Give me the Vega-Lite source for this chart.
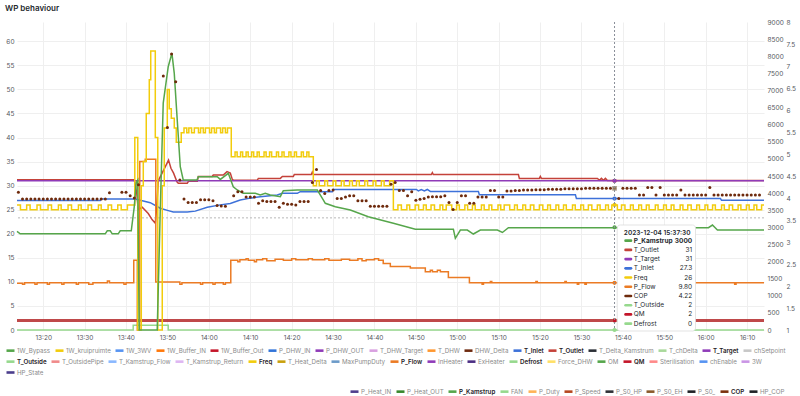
{
"$schema":"https://vega.github.io/schema/vega-lite/v6.json",
"width":747,"height":308,
"autosize":{"type":"none"},
"padding":{"left":17,"top":22,"right":36,"bottom":66},
"background":"#ffffff",
"title":{"text":"WP behaviour","anchor":"start","frame":"group","dx":-12,"offset":6,"fontSize":8,"fontWeight":600,"font":"Inter","color":"#24292e"},
"datasets":{
"tt":[{"t":"2023-12-04T15:37:30","k":1,"s":"P_Kamstrup","val":"3000","n":3000},{"t":"2023-12-04T15:37:30","k":2,"s":"T_Outlet","val":"31","n":31},{"t":"2023-12-04T15:37:30","k":3,"s":"T_Target","val":"31","n":31},{"t":"2023-12-04T15:37:30","k":4,"s":"T_Inlet","val":"27.3","n":27.3},{"t":"2023-12-04T15:37:30","k":5,"s":"Freq","val":"26","n":26},{"t":"2023-12-04T15:37:30","k":6,"s":"P_Flow","val":"9.80","n":9.8},{"t":"2023-12-04T15:37:30","k":7,"s":"COP","val":"4.22","n":4.22},{"t":"2023-12-04T15:37:30","k":8,"s":"T_Outside","val":"2","n":2},{"t":"2023-12-04T15:37:30","k":9,"s":"QM","val":"2","n":2},{"t":"2023-12-04T15:37:30","k":10,"s":"Defrost","val":"0","n":0}]
},
"data":{"values":[
{"s":"T_Outlet","t":"2023-12-04T13:13:40","v":31.2},{"s":"T_Outlet","t":"2023-12-04T13:41:59","v":31.2},{"s":"T_Outlet","t":"2023-12-04T13:42:35","v":28.5},{"s":"T_Outlet","t":"2023-12-04T13:42:57","v":25},{"s":"T_Outlet","t":"2023-12-04T13:43:55","v":25.5},{"s":"T_Outlet","t":"2023-12-04T13:45:22","v":24.2},{"s":"T_Outlet","t":"2023-12-04T13:46:20","v":22.9},{"s":"T_Outlet","t":"2023-12-04T13:47:04","v":22.2},{"s":"T_Outlet","t":"2023-12-04T13:47:25","v":25.6},{"s":"T_Outlet","t":"2023-12-04T13:47:47","v":31},{"s":"T_Outlet","t":"2023-12-04T13:49:28","v":33.9},{"s":"T_Outlet","t":"2023-12-04T13:50:16","v":35.3},{"s":"T_Outlet","t":"2023-12-04T13:50:51","v":33.6},{"s":"T_Outlet","t":"2023-12-04T13:51:29","v":32.6},{"s":"T_Outlet","t":"2023-12-04T13:52:18","v":30.8},{"s":"T_Outlet","t":"2023-12-04T13:52:37","v":30.5},{"s":"T_Outlet","t":"2023-12-04T13:54:47","v":30.5},{"s":"T_Outlet","t":"2023-12-04T13:55:06","v":30.9},{"s":"T_Outlet","t":"2023-12-04T13:57:13","v":30.9},{"s":"T_Outlet","t":"2023-12-04T13:57:27","v":31.9},{"s":"T_Outlet","t":"2023-12-04T14:00:50","v":31.9},{"s":"T_Outlet","t":"2023-12-04T14:01:04","v":32.2},{"s":"T_Outlet","t":"2023-12-04T14:03:29","v":32.2},{"s":"T_Outlet","t":"2023-12-04T14:04:23","v":32.9},{"s":"T_Outlet","t":"2023-12-04T14:05:11","v":32.6},{"s":"T_Outlet","t":"2023-12-04T14:05:40","v":31.3},{"s":"T_Outlet","t":"2023-12-04T14:05:59","v":31.1},{"s":"T_Outlet","t":"2023-12-04T14:11:42","v":31.1},{"s":"T_Outlet","t":"2023-12-04T14:11:57","v":31.5},{"s":"T_Outlet","t":"2023-12-04T14:17:16","v":31.5},{"s":"T_Outlet","t":"2023-12-04T14:17:45","v":31.9},{"s":"T_Outlet","t":"2023-12-04T14:20:24","v":31.9},{"s":"T_Outlet","t":"2023-12-04T14:20:38","v":32.3},{"s":"T_Outlet","t":"2023-12-04T14:24:45","v":32.3},{"s":"T_Outlet","t":"2023-12-04T14:24:59","v":32.8},{"s":"T_Outlet","t":"2023-12-04T14:25:14","v":32.3},{"s":"T_Outlet","t":"2023-12-04T14:53:44","v":32.3},{"s":"T_Outlet","t":"2023-12-04T14:53:59","v":32.7},{"s":"T_Outlet","t":"2023-12-04T14:54:13","v":32.3},{"s":"T_Outlet","t":"2023-12-04T15:14:46","v":32.3},{"s":"T_Outlet","t":"2023-12-04T15:15:00","v":31.5},{"s":"T_Outlet","t":"2023-12-04T15:19:50","v":31.5},{"s":"T_Outlet","t":"2023-12-04T15:20:04","v":31.9},{"s":"T_Outlet","t":"2023-12-04T15:20:19","v":31.5},{"s":"T_Outlet","t":"2023-12-04T15:33:51","v":31.5},{"s":"T_Outlet","t":"2023-12-04T15:34:20","v":31.1},{"s":"T_Outlet","t":"2023-12-04T15:34:49","v":31.5},{"s":"T_Outlet","t":"2023-12-04T15:35:18","v":31.1},{"s":"T_Outlet","t":"2023-12-04T15:35:47","v":31.5},{"s":"T_Outlet","t":"2023-12-04T15:36:16","v":31.05},{"s":"T_Outlet","t":"2023-12-04T16:14:05","v":31.05},
{"s":"T_Inlet","t":"2023-12-04T13:13:40","v":26.9},{"s":"T_Inlet","t":"2023-12-04T13:33:46","v":26.9},{"s":"T_Inlet","t":"2023-12-04T13:34:01","v":27.2},{"s":"T_Inlet","t":"2023-12-04T13:42:14","v":27.2},{"s":"T_Inlet","t":"2023-12-04T13:45:51","v":26.45},{"s":"T_Inlet","t":"2023-12-04T13:48:16","v":25.3},{"s":"T_Inlet","t":"2023-12-04T13:50:12","v":24.8},{"s":"T_Inlet","t":"2023-12-04T13:51:25","v":24.5},{"s":"T_Inlet","t":"2023-12-04T13:54:47","v":24.5},{"s":"T_Inlet","t":"2023-12-04T13:56:43","v":24.7},{"s":"T_Inlet","t":"2023-12-04T13:59:37","v":25.5},{"s":"T_Inlet","t":"2023-12-04T14:02:46","v":26.0},{"s":"T_Inlet","t":"2023-12-04T14:05:11","v":26.3},{"s":"T_Inlet","t":"2023-12-04T14:07:35","v":27.0},{"s":"T_Inlet","t":"2023-12-04T14:10:01","v":27.4},{"s":"T_Inlet","t":"2023-12-04T14:12:25","v":27.7},{"s":"T_Inlet","t":"2023-12-04T14:16:32","v":28.05},{"s":"T_Inlet","t":"2023-12-04T14:17:45","v":28.4},{"s":"T_Inlet","t":"2023-12-04T14:21:22","v":28.4},{"s":"T_Inlet","t":"2023-12-04T14:22:05","v":28.75},{"s":"T_Inlet","t":"2023-12-04T14:29:49","v":28.75},{"s":"T_Inlet","t":"2023-12-04T14:30:04","v":29.2},{"s":"T_Inlet","t":"2023-12-04T14:50:07","v":29.2},{"s":"T_Inlet","t":"2023-12-04T14:50:36","v":28.9},{"s":"T_Inlet","t":"2023-12-04T14:51:19","v":29.2},{"s":"T_Inlet","t":"2023-12-04T14:52:03","v":28.9},{"s":"T_Inlet","t":"2023-12-04T14:52:46","v":29.2},{"s":"T_Inlet","t":"2023-12-04T14:53:30","v":28.8},{"s":"T_Inlet","t":"2023-12-04T15:05:06","v":28.8},{"s":"T_Inlet","t":"2023-12-04T15:05:20","v":28.1},{"s":"T_Inlet","t":"2023-12-04T15:28:32","v":28.1},{"s":"T_Inlet","t":"2023-12-04T15:28:47","v":27.3},{"s":"T_Inlet","t":"2023-12-04T16:03:34","v":27.3},{"s":"T_Inlet","t":"2023-12-04T16:03:49","v":26.95},{"s":"T_Inlet","t":"2023-12-04T16:14:05","v":26.95},
{"s":"T_Target","t":"2023-12-04T13:13:40","v":31},{"s":"T_Target","t":"2023-12-04T16:14:05","v":31},
{"s":"T_Outside","t":"2023-12-04T13:13:40","v":2},{"s":"T_Outside","t":"2023-12-04T16:14:05","v":2},
{"s":"QM","t":"2023-12-04T13:13:40","v":2},{"s":"QM","t":"2023-12-04T16:14:05","v":2},
{"s":"Defrost","t":"2023-12-04T13:13:40","v":0},{"s":"Defrost","t":"2023-12-04T13:41:44","v":1},{"s":"Defrost","t":"2023-12-04T13:50:12","v":0},{"s":"Defrost","t":"2023-12-04T16:14:05","v":0},
{"s":"P_Flow","t":"2023-12-04T13:13:40","v":9.7},{"s":"P_Flow","t":"2023-12-04T13:15:00","v":9.5},{"s":"P_Flow","t":"2023-12-04T13:15:30","v":9.8},{"s":"P_Flow","t":"2023-12-04T13:18:00","v":9.5},{"s":"P_Flow","t":"2023-12-04T13:18:30","v":9.8},{"s":"P_Flow","t":"2023-12-04T13:21:00","v":9.5},{"s":"P_Flow","t":"2023-12-04T13:21:30","v":9.8},{"s":"P_Flow","t":"2023-12-04T13:24:30","v":9.5},{"s":"P_Flow","t":"2023-12-04T13:25:00","v":9.8},{"s":"P_Flow","t":"2023-12-04T13:28:00","v":9.5},{"s":"P_Flow","t":"2023-12-04T13:28:30","v":9.8},{"s":"P_Flow","t":"2023-12-04T13:31:00","v":9.5},{"s":"P_Flow","t":"2023-12-04T13:32:00","v":9.8},{"s":"P_Flow","t":"2023-12-04T13:35:30","v":10.2},{"s":"P_Flow","t":"2023-12-04T13:36:00","v":9.8},{"s":"P_Flow","t":"2023-12-04T13:39:30","v":9.5},{"s":"P_Flow","t":"2023-12-04T13:40:00","v":9.8},{"s":"P_Flow","t":"2023-12-04T13:41:52","v":14.5},{"s":"P_Flow","t":"2023-12-04T13:42:43","v":0},{"s":"P_Flow","t":"2023-12-04T13:43:19","v":35},{"s":"P_Flow","t":"2023-12-04T13:44:38","v":35.5},{"s":"P_Flow","t":"2023-12-04T13:47:11","v":10},{"s":"P_Flow","t":"2023-12-04T13:53:00","v":9.5},{"s":"P_Flow","t":"2023-12-04T13:53:30","v":9.8},{"s":"P_Flow","t":"2023-12-04T13:58:00","v":9.5},{"s":"P_Flow","t":"2023-12-04T13:58:30","v":9.8},{"s":"P_Flow","t":"2023-12-04T14:01:00","v":9.5},{"s":"P_Flow","t":"2023-12-04T14:01:30","v":9.8},{"s":"P_Flow","t":"2023-12-04T14:03:30","v":9.5},{"s":"P_Flow","t":"2023-12-04T14:04:00","v":9.8},{"s":"P_Flow","t":"2023-12-04T14:05:18","v":14.5},{"s":"P_Flow","t":"2023-12-04T14:07:00","v":14.2},{"s":"P_Flow","t":"2023-12-04T14:07:30","v":14.6},{"s":"P_Flow","t":"2023-12-04T14:09:00","v":14.8},{"s":"P_Flow","t":"2023-12-04T14:09:30","v":14.5},{"s":"P_Flow","t":"2023-12-04T14:11:00","v":14.2},{"s":"P_Flow","t":"2023-12-04T14:11:30","v":14.6},{"s":"P_Flow","t":"2023-12-04T14:13:00","v":14.8},{"s":"P_Flow","t":"2023-12-04T14:14:00","v":14.4},{"s":"P_Flow","t":"2023-12-04T14:16:00","v":14.7},{"s":"P_Flow","t":"2023-12-04T14:18:00","v":14.5},{"s":"P_Flow","t":"2023-12-04T14:20:00","v":14.8},{"s":"P_Flow","t":"2023-12-04T14:21:00","v":14.6},{"s":"P_Flow","t":"2023-12-04T14:24:00","v":14.8},{"s":"P_Flow","t":"2023-12-04T14:25:00","v":14.6},{"s":"P_Flow","t":"2023-12-04T14:28:00","v":14.8},{"s":"P_Flow","t":"2023-12-04T14:29:00","v":14.5},{"s":"P_Flow","t":"2023-12-04T14:32:00","v":14.7},{"s":"P_Flow","t":"2023-12-04T14:34:00","v":14.5},{"s":"P_Flow","t":"2023-12-04T14:36:00","v":14.8},{"s":"P_Flow","t":"2023-12-04T14:37:00","v":14.4},{"s":"P_Flow","t":"2023-12-04T14:38:00","v":14.6},{"s":"P_Flow","t":"2023-12-04T14:40:00","v":14.8},{"s":"P_Flow","t":"2023-12-04T14:41:00","v":14.5},{"s":"P_Flow","t":"2023-12-04T14:42:07","v":13.8},{"s":"P_Flow","t":"2023-12-04T14:43:50","v":13.2},{"s":"P_Flow","t":"2023-12-04T14:48:40","v":12.9},{"s":"P_Flow","t":"2023-12-04T14:52:17","v":12.1},{"s":"P_Flow","t":"2023-12-04T14:53:30","v":12.4},{"s":"P_Flow","t":"2023-12-04T14:54:00","v":12.1},{"s":"P_Flow","t":"2023-12-04T14:55:12","v":12.4},{"s":"P_Flow","t":"2023-12-04T14:55:55","v":12.1},{"s":"P_Flow","t":"2023-12-04T14:57:51","v":10.9},{"s":"P_Flow","t":"2023-12-04T15:02:56","v":9.8},{"s":"P_Flow","t":"2023-12-04T15:06:00","v":9.5},{"s":"P_Flow","t":"2023-12-04T15:06:20","v":9.8},{"s":"P_Flow","t":"2023-12-04T15:08:00","v":10.1},{"s":"P_Flow","t":"2023-12-04T15:08:20","v":9.8},{"s":"P_Flow","t":"2023-12-04T15:19:00","v":10.1},{"s":"P_Flow","t":"2023-12-04T15:19:20","v":9.8},{"s":"P_Flow","t":"2023-12-04T15:26:00","v":10.1},{"s":"P_Flow","t":"2023-12-04T15:26:20","v":9.8},{"s":"P_Flow","t":"2023-12-04T15:29:00","v":9.5},{"s":"P_Flow","t":"2023-12-04T15:29:20","v":9.8},{"s":"P_Flow","t":"2023-12-04T15:30:50","v":9.5},{"s":"P_Flow","t":"2023-12-04T15:31:10","v":9.8},{"s":"P_Flow","t":"2023-12-04T15:45:00","v":10.1},{"s":"P_Flow","t":"2023-12-04T15:45:20","v":9.8},{"s":"P_Flow","t":"2023-12-04T15:46:30","v":9.5},{"s":"P_Flow","t":"2023-12-04T15:46:50","v":9.8},{"s":"P_Flow","t":"2023-12-04T15:48:00","v":9.5},{"s":"P_Flow","t":"2023-12-04T15:48:20","v":9.8},{"s":"P_Flow","t":"2023-12-04T15:53:20","v":10.1},{"s":"P_Flow","t":"2023-12-04T15:53:40","v":9.8},{"s":"P_Flow","t":"2023-12-04T16:07:00","v":9.5},{"s":"P_Flow","t":"2023-12-04T16:07:20","v":9.8},{"s":"P_Flow","t":"2023-12-04T16:14:05","v":9.8},
{"s":"Freq","t":"2023-12-04T13:13:40","v":26},{"s":"Freq","t":"2023-12-04T13:14:30","v":25},{"s":"Freq","t":"2023-12-04T13:16:00","v":26},{"s":"Freq","t":"2023-12-04T13:16:50","v":25},{"s":"Freq","t":"2023-12-04T13:18:30","v":26},{"s":"Freq","t":"2023-12-04T13:19:20","v":25},{"s":"Freq","t":"2023-12-04T13:21:10","v":26},{"s":"Freq","t":"2023-12-04T13:22:00","v":25},{"s":"Freq","t":"2023-12-04T13:23:40","v":26},{"s":"Freq","t":"2023-12-04T13:24:20","v":25},{"s":"Freq","t":"2023-12-04T13:26:00","v":26},{"s":"Freq","t":"2023-12-04T13:26:50","v":25},{"s":"Freq","t":"2023-12-04T13:28:30","v":26},{"s":"Freq","t":"2023-12-04T13:29:10","v":25},{"s":"Freq","t":"2023-12-04T13:30:50","v":26},{"s":"Freq","t":"2023-12-04T13:31:40","v":25},{"s":"Freq","t":"2023-12-04T13:33:20","v":26},{"s":"Freq","t":"2023-12-04T13:34:00","v":25},{"s":"Freq","t":"2023-12-04T13:35:40","v":26},{"s":"Freq","t":"2023-12-04T13:36:30","v":25},{"s":"Freq","t":"2023-12-04T13:38:00","v":26},{"s":"Freq","t":"2023-12-04T13:38:50","v":25},{"s":"Freq","t":"2023-12-04T13:40:20","v":26},{"s":"Freq","t":"2023-12-04T13:42:07","v":40},{"s":"Freq","t":"2023-12-04T13:42:50","v":0},{"s":"Freq","t":"2023-12-04T13:43:41","v":30},{"s":"Freq","t":"2023-12-04T13:44:10","v":35},{"s":"Freq","t":"2023-12-04T13:44:53","v":45},{"s":"Freq","t":"2023-12-04T13:45:37","v":52},{"s":"Freq","t":"2023-12-04T13:45:58","v":58},{"s":"Freq","t":"2023-12-04T13:47:04","v":40},{"s":"Freq","t":"2023-12-04T13:47:40","v":0},{"s":"Freq","t":"2023-12-04T13:48:45","v":30},{"s":"Freq","t":"2023-12-04T13:49:14","v":42},{"s":"Freq","t":"2023-12-04T13:49:58","v":50},{"s":"Freq","t":"2023-12-04T13:50:26","v":46},{"s":"Freq","t":"2023-12-04T13:50:56","v":44},{"s":"Freq","t":"2023-12-04T13:51:39","v":42},{"s":"Freq","t":"2023-12-04T13:52:08","v":39},{"s":"Freq","t":"2023-12-04T13:53:20","v":41},{"s":"Freq","t":"2023-12-04T13:54:00","v":42},{"s":"Freq","t":"2023-12-04T13:54:40","v":41},{"s":"Freq","t":"2023-12-04T13:55:10","v":42},{"s":"Freq","t":"2023-12-04T13:55:50","v":41},{"s":"Freq","t":"2023-12-04T13:56:30","v":42},{"s":"Freq","t":"2023-12-04T13:57:30","v":41},{"s":"Freq","t":"2023-12-04T13:58:00","v":42},{"s":"Freq","t":"2023-12-04T13:58:40","v":41},{"s":"Freq","t":"2023-12-04T13:59:10","v":42},{"s":"Freq","t":"2023-12-04T14:00:10","v":41},{"s":"Freq","t":"2023-12-04T14:00:40","v":42},{"s":"Freq","t":"2023-12-04T14:01:20","v":41},{"s":"Freq","t":"2023-12-04T14:01:50","v":42},{"s":"Freq","t":"2023-12-04T14:02:50","v":41},{"s":"Freq","t":"2023-12-04T14:03:20","v":42},{"s":"Freq","t":"2023-12-04T14:04:00","v":41},{"s":"Freq","t":"2023-12-04T14:04:30","v":42},{"s":"Freq","t":"2023-12-04T14:05:25","v":36},{"s":"Freq","t":"2023-12-04T14:06:20","v":37},{"s":"Freq","t":"2023-12-04T14:06:50","v":36},{"s":"Freq","t":"2023-12-04T14:07:40","v":37},{"s":"Freq","t":"2023-12-04T14:08:10","v":36},{"s":"Freq","t":"2023-12-04T14:09:00","v":37},{"s":"Freq","t":"2023-12-04T14:09:30","v":36},{"s":"Freq","t":"2023-12-04T14:10:20","v":37},{"s":"Freq","t":"2023-12-04T14:10:50","v":36},{"s":"Freq","t":"2023-12-04T14:11:40","v":37},{"s":"Freq","t":"2023-12-04T14:12:10","v":36},{"s":"Freq","t":"2023-12-04T14:13:20","v":37},{"s":"Freq","t":"2023-12-04T14:13:50","v":36},{"s":"Freq","t":"2023-12-04T14:14:40","v":37},{"s":"Freq","t":"2023-12-04T14:15:10","v":36},{"s":"Freq","t":"2023-12-04T14:16:20","v":37},{"s":"Freq","t":"2023-12-04T14:16:50","v":36},{"s":"Freq","t":"2023-12-04T14:17:40","v":37},{"s":"Freq","t":"2023-12-04T14:18:10","v":36},{"s":"Freq","t":"2023-12-04T14:19:20","v":37},{"s":"Freq","t":"2023-12-04T14:19:50","v":36},{"s":"Freq","t":"2023-12-04T14:20:40","v":37},{"s":"Freq","t":"2023-12-04T14:21:10","v":36},{"s":"Freq","t":"2023-12-04T14:22:20","v":37},{"s":"Freq","t":"2023-12-04T14:22:50","v":36},{"s":"Freq","t":"2023-12-04T14:23:40","v":37},{"s":"Freq","t":"2023-12-04T14:24:10","v":36},{"s":"Freq","t":"2023-12-04T14:25:14","v":30},{"s":"Freq","t":"2023-12-04T14:26:00","v":31},{"s":"Freq","t":"2023-12-04T14:26:40","v":30},{"s":"Freq","t":"2023-12-04T14:28:00","v":31},{"s":"Freq","t":"2023-12-04T14:28:40","v":30},{"s":"Freq","t":"2023-12-04T14:30:00","v":31},{"s":"Freq","t":"2023-12-04T14:30:40","v":30},{"s":"Freq","t":"2023-12-04T14:32:00","v":31},{"s":"Freq","t":"2023-12-04T14:32:40","v":30},{"s":"Freq","t":"2023-12-04T14:34:00","v":31},{"s":"Freq","t":"2023-12-04T14:34:40","v":30},{"s":"Freq","t":"2023-12-04T14:35:40","v":31},{"s":"Freq","t":"2023-12-04T14:36:20","v":30},{"s":"Freq","t":"2023-12-04T14:37:40","v":31},{"s":"Freq","t":"2023-12-04T14:38:20","v":30},{"s":"Freq","t":"2023-12-04T14:39:40","v":31},{"s":"Freq","t":"2023-12-04T14:40:20","v":30},{"s":"Freq","t":"2023-12-04T14:41:40","v":31},{"s":"Freq","t":"2023-12-04T14:42:20","v":30},{"s":"Freq","t":"2023-12-04T14:43:40","v":31},{"s":"Freq","t":"2023-12-04T14:44:34","v":25},{"s":"Freq","t":"2023-12-04T14:45:40","v":26},{"s":"Freq","t":"2023-12-04T14:46:30","v":25},{"s":"Freq","t":"2023-12-04T14:47:50","v":26},{"s":"Freq","t":"2023-12-04T14:48:30","v":25},{"s":"Freq","t":"2023-12-04T14:49:50","v":26},{"s":"Freq","t":"2023-12-04T14:50:40","v":25},{"s":"Freq","t":"2023-12-04T14:51:50","v":26},{"s":"Freq","t":"2023-12-04T14:52:30","v":25},{"s":"Freq","t":"2023-12-04T14:53:40","v":26},{"s":"Freq","t":"2023-12-04T14:54:30","v":25},{"s":"Freq","t":"2023-12-04T14:55:50","v":26},{"s":"Freq","t":"2023-12-04T14:56:30","v":25},{"s":"Freq","t":"2023-12-04T14:57:20","v":26},{"s":"Freq","t":"2023-12-04T14:58:40","v":25},{"s":"Freq","t":"2023-12-04T14:59:50","v":26},{"s":"Freq","t":"2023-12-04T15:00:30","v":25},{"s":"Freq","t":"2023-12-04T15:01:50","v":26},{"s":"Freq","t":"2023-12-04T15:02:30","v":25},{"s":"Freq","t":"2023-12-04T15:03:40","v":26},{"s":"Freq","t":"2023-12-04T15:04:20","v":25},{"s":"Freq","t":"2023-12-04T15:05:50","v":26},{"s":"Freq","t":"2023-12-04T15:06:30","v":25},{"s":"Freq","t":"2023-12-04T15:07:40","v":26},{"s":"Freq","t":"2023-12-04T15:08:20","v":25},{"s":"Freq","t":"2023-12-04T15:09:50","v":26},{"s":"Freq","t":"2023-12-04T15:10:30","v":25},{"s":"Freq","t":"2023-12-04T15:11:20","v":26},{"s":"Freq","t":"2023-12-04T15:12:40","v":25},{"s":"Freq","t":"2023-12-04T15:13:50","v":26},{"s":"Freq","t":"2023-12-04T15:14:30","v":25},{"s":"Freq","t":"2023-12-04T15:15:50","v":26},{"s":"Freq","t":"2023-12-04T15:16:30","v":25},{"s":"Freq","t":"2023-12-04T15:17:40","v":26},{"s":"Freq","t":"2023-12-04T15:18:30","v":25},{"s":"Freq","t":"2023-12-04T15:19:50","v":26},{"s":"Freq","t":"2023-12-04T15:20:40","v":25},{"s":"Freq","t":"2023-12-04T15:21:50","v":26},{"s":"Freq","t":"2023-12-04T15:22:30","v":25},{"s":"Freq","t":"2023-12-04T15:23:50","v":26},{"s":"Freq","t":"2023-12-04T15:24:30","v":25},{"s":"Freq","t":"2023-12-04T15:25:40","v":26},{"s":"Freq","t":"2023-12-04T15:26:20","v":25},{"s":"Freq","t":"2023-12-04T15:27:50","v":26},{"s":"Freq","t":"2023-12-04T15:28:30","v":25},{"s":"Freq","t":"2023-12-04T15:29:50","v":26},{"s":"Freq","t":"2023-12-04T15:30:30","v":25},{"s":"Freq","t":"2023-12-04T15:31:40","v":26},{"s":"Freq","t":"2023-12-04T15:32:30","v":25},{"s":"Freq","t":"2023-12-04T15:33:50","v":26},{"s":"Freq","t":"2023-12-04T15:34:30","v":25},{"s":"Freq","t":"2023-12-04T15:35:50","v":26},{"s":"Freq","t":"2023-12-04T15:36:30","v":25},{"s":"Freq","t":"2023-12-04T15:37:20","v":26},{"s":"Freq","t":"2023-12-04T15:38:40","v":25},{"s":"Freq","t":"2023-12-04T15:39:40","v":26},{"s":"Freq","t":"2023-12-04T15:40:30","v":25},{"s":"Freq","t":"2023-12-04T15:41:50","v":26},{"s":"Freq","t":"2023-12-04T15:42:30","v":25},{"s":"Freq","t":"2023-12-04T15:43:50","v":26},{"s":"Freq","t":"2023-12-04T15:44:30","v":25},{"s":"Freq","t":"2023-12-04T15:45:40","v":26},{"s":"Freq","t":"2023-12-04T15:46:20","v":25},{"s":"Freq","t":"2023-12-04T15:47:50","v":26},{"s":"Freq","t":"2023-12-04T15:48:30","v":25},{"s":"Freq","t":"2023-12-04T15:49:50","v":26},{"s":"Freq","t":"2023-12-04T15:50:30","v":25},{"s":"Freq","t":"2023-12-04T15:51:40","v":26},{"s":"Freq","t":"2023-12-04T15:52:20","v":25},{"s":"Freq","t":"2023-12-04T15:53:50","v":26},{"s":"Freq","t":"2023-12-04T15:54:30","v":25},{"s":"Freq","t":"2023-12-04T15:55:40","v":26},{"s":"Freq","t":"2023-12-04T15:56:30","v":25},{"s":"Freq","t":"2023-12-04T15:57:50","v":26},{"s":"Freq","t":"2023-12-04T15:58:30","v":25},{"s":"Freq","t":"2023-12-04T15:59:50","v":26},{"s":"Freq","t":"2023-12-04T16:00:30","v":25},{"s":"Freq","t":"2023-12-04T16:01:40","v":26},{"s":"Freq","t":"2023-12-04T16:02:20","v":25},{"s":"Freq","t":"2023-12-04T16:03:50","v":26},{"s":"Freq","t":"2023-12-04T16:04:30","v":25},{"s":"Freq","t":"2023-12-04T16:05:40","v":26},{"s":"Freq","t":"2023-12-04T16:06:30","v":25},{"s":"Freq","t":"2023-12-04T16:07:50","v":26},{"s":"Freq","t":"2023-12-04T16:08:30","v":25},{"s":"Freq","t":"2023-12-04T16:09:50","v":26},{"s":"Freq","t":"2023-12-04T16:10:30","v":25},{"s":"Freq","t":"2023-12-04T16:11:40","v":26},{"s":"Freq","t":"2023-12-04T16:12:20","v":25},{"s":"Freq","t":"2023-12-04T16:13:30","v":26},{"s":"Freq","t":"2023-12-04T16:14:05","v":26},
{"s":"P_Kamstrup","t":"2023-12-04T13:13:40","v":2880},{"s":"P_Kamstrup","t":"2023-12-04T13:14:26","v":2810},{"s":"P_Kamstrup","t":"2023-12-04T13:34:59","v":2810},{"s":"P_Kamstrup","t":"2023-12-04T13:35:28","v":2900},{"s":"P_Kamstrup","t":"2023-12-04T13:36:11","v":2900},{"s":"P_Kamstrup","t":"2023-12-04T13:36:40","v":2810},{"s":"P_Kamstrup","t":"2023-12-04T13:38:07","v":2810},{"s":"P_Kamstrup","t":"2023-12-04T13:38:36","v":2900},{"s":"P_Kamstrup","t":"2023-12-04T13:41:16","v":2900},{"s":"P_Kamstrup","t":"2023-12-04T13:41:59","v":3600},{"s":"P_Kamstrup","t":"2023-12-04T13:42:28","v":4300},{"s":"P_Kamstrup","t":"2023-12-04T13:42:50","v":4380},{"s":"P_Kamstrup","t":"2023-12-04T13:43:11","v":0},{"s":"P_Kamstrup","t":"2023-12-04T13:47:32","v":0},{"s":"P_Kamstrup","t":"2023-12-04T13:48:16","v":3500},{"s":"P_Kamstrup","t":"2023-12-04T13:48:59","v":6630},{"s":"P_Kamstrup","t":"2023-12-04T13:50:12","v":7700},{"s":"P_Kamstrup","t":"2023-12-04T13:51:05","v":8085},{"s":"P_Kamstrup","t":"2023-12-04T13:51:39","v":7500},{"s":"P_Kamstrup","t":"2023-12-04T13:52:22","v":6136},{"s":"P_Kamstrup","t":"2023-12-04T13:53:06","v":4772},{"s":"P_Kamstrup","t":"2023-12-04T13:53:49","v":4383},{"s":"P_Kamstrup","t":"2023-12-04T13:57:08","v":4383},{"s":"P_Kamstrup","t":"2023-12-04T13:57:27","v":4480},{"s":"P_Kamstrup","t":"2023-12-04T14:02:02","v":4480},{"s":"P_Kamstrup","t":"2023-12-04T14:02:46","v":4400},{"s":"P_Kamstrup","t":"2023-12-04T14:04:42","v":4579},{"s":"P_Kamstrup","t":"2023-12-04T14:05:54","v":4187},{"s":"P_Kamstrup","t":"2023-12-04T14:06:52","v":4091},{"s":"P_Kamstrup","t":"2023-12-04T14:08:19","v":3994},{"s":"P_Kamstrup","t":"2023-12-04T14:11:13","v":3994},{"s":"P_Kamstrup","t":"2023-12-04T14:12:25","v":3945},{"s":"P_Kamstrup","t":"2023-12-04T14:13:38","v":3994},{"s":"P_Kamstrup","t":"2023-12-04T14:14:50","v":3945},{"s":"P_Kamstrup","t":"2023-12-04T14:17:16","v":3895},{"s":"P_Kamstrup","t":"2023-12-04T14:17:59","v":4071},{"s":"P_Kamstrup","t":"2023-12-04T14:21:22","v":4091},{"s":"P_Kamstrup","t":"2023-12-04T14:26:12","v":4091},{"s":"P_Kamstrup","t":"2023-12-04T14:27:25","v":3848},{"s":"P_Kamstrup","t":"2023-12-04T14:28:08","v":3702},{"s":"P_Kamstrup","t":"2023-12-04T14:30:33","v":3603},{"s":"P_Kamstrup","t":"2023-12-04T14:34:10","v":3506},{"s":"P_Kamstrup","t":"2023-12-04T14:38:31","v":3311},{"s":"P_Kamstrup","t":"2023-12-04T14:44:34","v":3118},{"s":"P_Kamstrup","t":"2023-12-04T14:49:53","v":2943},{"s":"P_Kamstrup","t":"2023-12-04T14:59:04","v":2943},{"s":"P_Kamstrup","t":"2023-12-04T14:59:32","v":2680},{"s":"P_Kamstrup","t":"2023-12-04T15:00:45","v":2922},{"s":"P_Kamstrup","t":"2023-12-04T15:02:26","v":2922},{"s":"P_Kamstrup","t":"2023-12-04T15:03:53","v":2805},{"s":"P_Kamstrup","t":"2023-12-04T15:05:35","v":2922},{"s":"P_Kamstrup","t":"2023-12-04T15:09:41","v":2922},{"s":"P_Kamstrup","t":"2023-12-04T15:10:54","v":2850},{"s":"P_Kamstrup","t":"2023-12-04T15:12:21","v":2990},{"s":"P_Kamstrup","t":"2023-12-04T16:00:40","v":2990},{"s":"P_Kamstrup","t":"2023-12-04T16:01:38","v":3068},{"s":"P_Kamstrup","t":"2023-12-04T16:02:50","v":2922},{"s":"P_Kamstrup","t":"2023-12-04T16:14:05","v":2922},
{"s":"COP","t":"2023-12-04T13:14:00","v":4.13},{"s":"COP","t":"2023-12-04T13:15:00","v":3.98},{"s":"COP","t":"2023-12-04T13:16:00","v":3.98},{"s":"COP","t":"2023-12-04T13:17:00","v":3.98},{"s":"COP","t":"2023-12-04T13:18:00","v":3.98},{"s":"COP","t":"2023-12-04T13:19:00","v":3.98},{"s":"COP","t":"2023-12-04T13:20:00","v":3.98},{"s":"COP","t":"2023-12-04T13:21:00","v":3.98},{"s":"COP","t":"2023-12-04T13:22:00","v":3.98},{"s":"COP","t":"2023-12-04T13:23:00","v":3.98},{"s":"COP","t":"2023-12-04T13:24:00","v":3.98},{"s":"COP","t":"2023-12-04T13:25:00","v":3.98},{"s":"COP","t":"2023-12-04T13:26:00","v":3.98},{"s":"COP","t":"2023-12-04T13:27:00","v":3.98},{"s":"COP","t":"2023-12-04T13:28:00","v":3.98},{"s":"COP","t":"2023-12-04T13:29:00","v":3.98},{"s":"COP","t":"2023-12-04T13:30:00","v":3.98},{"s":"COP","t":"2023-12-04T13:31:00","v":3.98},{"s":"COP","t":"2023-12-04T13:32:00","v":3.98},{"s":"COP","t":"2023-12-04T13:33:00","v":3.98},{"s":"COP","t":"2023-12-04T13:34:00","v":3.98},{"s":"COP","t":"2023-12-04T13:35:00","v":3.98},{"s":"COP","t":"2023-12-04T13:36:00","v":4.12},{"s":"COP","t":"2023-12-04T13:39:00","v":4.13},{"s":"COP","t":"2023-12-04T13:40:00","v":4.13},{"s":"COP","t":"2023-12-04T13:41:00","v":4.05},{"s":"COP","t":"2023-12-04T13:42:00","v":4.0},{"s":"COP","t":"2023-12-04T13:43:00","v":4.3},{"s":"COP","t":"2023-12-04T13:49:00","v":6.77},{"s":"COP","t":"2023-12-04T13:50:00","v":5.6},{"s":"COP","t":"2023-12-04T13:51:00","v":7.27},{"s":"COP","t":"2023-12-04T13:52:00","v":6.64},{"s":"COP","t":"2023-12-04T13:53:00","v":4.41},{"s":"COP","t":"2023-12-04T13:54:00","v":3.98},{"s":"COP","t":"2023-12-04T13:55:00","v":3.9},{"s":"COP","t":"2023-12-04T13:56:00","v":3.9},{"s":"COP","t":"2023-12-04T13:57:00","v":3.9},{"s":"COP","t":"2023-12-04T13:58:00","v":3.96},{"s":"COP","t":"2023-12-04T13:59:00","v":3.96},{"s":"COP","t":"2023-12-04T14:00:00","v":3.96},{"s":"COP","t":"2023-12-04T14:01:00","v":3.94},{"s":"COP","t":"2023-12-04T14:02:00","v":3.83},{"s":"COP","t":"2023-12-04T14:03:00","v":3.82},{"s":"COP","t":"2023-12-04T14:04:00","v":3.81},{"s":"COP","t":"2023-12-04T14:06:00","v":4.05},{"s":"COP","t":"2023-12-04T14:07:00","v":4.14},{"s":"COP","t":"2023-12-04T14:08:00","v":4.14},{"s":"COP","t":"2023-12-04T14:09:00","v":4.02},{"s":"COP","t":"2023-12-04T14:10:00","v":4.02},{"s":"COP","t":"2023-12-04T14:11:00","v":4.02},{"s":"COP","t":"2023-12-04T14:12:00","v":3.88},{"s":"COP","t":"2023-12-04T14:13:00","v":3.94},{"s":"COP","t":"2023-12-04T14:14:00","v":3.92},{"s":"COP","t":"2023-12-04T14:15:00","v":3.92},{"s":"COP","t":"2023-12-04T14:16:00","v":3.92},{"s":"COP","t":"2023-12-04T14:17:00","v":3.79},{"s":"COP","t":"2023-12-04T14:18:00","v":3.88},{"s":"COP","t":"2023-12-04T14:19:00","v":3.86},{"s":"COP","t":"2023-12-04T14:20:00","v":3.86},{"s":"COP","t":"2023-12-04T14:21:00","v":3.84},{"s":"COP","t":"2023-12-04T14:22:00","v":3.92},{"s":"COP","t":"2023-12-04T14:23:00","v":3.92},{"s":"COP","t":"2023-12-04T14:24:00","v":3.92},{"s":"COP","t":"2023-12-04T14:25:00","v":4.35},{"s":"COP","t":"2023-12-04T14:26:00","v":4.65},{"s":"COP","t":"2023-12-04T14:27:00","v":4.17},{"s":"COP","t":"2023-12-04T14:28:00","v":4.1},{"s":"COP","t":"2023-12-04T14:29:00","v":4.17},{"s":"COP","t":"2023-12-04T14:30:00","v":4.18},{"s":"COP","t":"2023-12-04T14:31:00","v":3.99},{"s":"COP","t":"2023-12-04T14:32:00","v":3.99},{"s":"COP","t":"2023-12-04T14:33:00","v":4.02},{"s":"COP","t":"2023-12-04T14:34:00","v":4.05},{"s":"COP","t":"2023-12-04T14:35:00","v":4.05},{"s":"COP","t":"2023-12-04T14:36:00","v":3.94},{"s":"COP","t":"2023-12-04T14:37:00","v":3.94},{"s":"COP","t":"2023-12-04T14:38:00","v":3.94},{"s":"COP","t":"2023-12-04T14:39:00","v":3.81},{"s":"COP","t":"2023-12-04T14:40:00","v":3.81},{"s":"COP","t":"2023-12-04T14:41:00","v":3.81},{"s":"COP","t":"2023-12-04T14:42:00","v":3.81},{"s":"COP","t":"2023-12-04T14:43:00","v":3.81},{"s":"COP","t":"2023-12-04T14:44:00","v":4.31},{"s":"COP","t":"2023-12-04T14:45:00","v":4.35},{"s":"COP","t":"2023-12-04T14:46:00","v":4.17},{"s":"COP","t":"2023-12-04T14:47:00","v":4.17},{"s":"COP","t":"2023-12-04T14:48:00","v":4.05},{"s":"COP","t":"2023-12-04T14:49:00","v":4.14},{"s":"COP","t":"2023-12-04T14:50:00","v":3.95},{"s":"COP","t":"2023-12-04T14:51:00","v":3.97},{"s":"COP","t":"2023-12-04T14:52:00","v":3.99},{"s":"COP","t":"2023-12-04T14:53:00","v":4.02},{"s":"COP","t":"2023-12-04T14:54:00","v":4.03},{"s":"COP","t":"2023-12-04T14:55:00","v":4.03},{"s":"COP","t":"2023-12-04T14:56:00","v":4.03},{"s":"COP","t":"2023-12-04T14:57:00","v":4.05},{"s":"COP","t":"2023-12-04T14:58:00","v":3.9},{"s":"COP","t":"2023-12-04T14:59:00","v":3.74},{"s":"COP","t":"2023-12-04T15:00:00","v":3.9},{"s":"COP","t":"2023-12-04T15:01:00","v":4.05},{"s":"COP","t":"2023-12-04T15:02:00","v":4.05},{"s":"COP","t":"2023-12-04T15:03:00","v":3.88},{"s":"COP","t":"2023-12-04T15:04:00","v":3.88},{"s":"COP","t":"2023-12-04T15:05:00","v":4.02},{"s":"COP","t":"2023-12-04T15:06:00","v":4.02},{"s":"COP","t":"2023-12-04T15:07:00","v":4.02},{"s":"COP","t":"2023-12-04T15:08:00","v":4.17},{"s":"COP","t":"2023-12-04T15:09:00","v":4.17},{"s":"COP","t":"2023-12-04T15:10:00","v":4.02},{"s":"COP","t":"2023-12-04T15:11:00","v":4.02},{"s":"COP","t":"2023-12-04T15:12:00","v":4.16},{"s":"COP","t":"2023-12-04T15:13:00","v":4.16},{"s":"COP","t":"2023-12-04T15:14:00","v":4.17},{"s":"COP","t":"2023-12-04T15:15:00","v":4.17},{"s":"COP","t":"2023-12-04T15:16:00","v":4.18},{"s":"COP","t":"2023-12-04T15:17:00","v":4.18},{"s":"COP","t":"2023-12-04T15:18:00","v":4.18},{"s":"COP","t":"2023-12-04T15:19:00","v":4.19},{"s":"COP","t":"2023-12-04T15:20:00","v":4.19},{"s":"COP","t":"2023-12-04T15:21:00","v":4.19},{"s":"COP","t":"2023-12-04T15:22:00","v":4.2},{"s":"COP","t":"2023-12-04T15:23:00","v":4.2},{"s":"COP","t":"2023-12-04T15:24:00","v":4.2},{"s":"COP","t":"2023-12-04T15:25:00","v":4.2},{"s":"COP","t":"2023-12-04T15:26:00","v":4.21},{"s":"COP","t":"2023-12-04T15:27:00","v":4.21},{"s":"COP","t":"2023-12-04T15:28:00","v":4.21},{"s":"COP","t":"2023-12-04T15:29:00","v":4.21},{"s":"COP","t":"2023-12-04T15:30:00","v":4.21},{"s":"COP","t":"2023-12-04T15:31:00","v":4.22},{"s":"COP","t":"2023-12-04T15:32:00","v":4.22},{"s":"COP","t":"2023-12-04T15:33:00","v":4.22},{"s":"COP","t":"2023-12-04T15:34:00","v":4.22},{"s":"COP","t":"2023-12-04T15:35:00","v":4.22},{"s":"COP","t":"2023-12-04T15:36:00","v":4.22},{"s":"COP","t":"2023-12-04T15:37:00","v":4.22},{"s":"COP","t":"2023-12-04T15:38:00","v":4.22},{"s":"COP","t":"2023-12-04T15:39:00","v":3.99},{"s":"COP","t":"2023-12-04T15:40:00","v":4.22},{"s":"COP","t":"2023-12-04T15:41:00","v":4.22},{"s":"COP","t":"2023-12-04T15:42:00","v":4.22},{"s":"COP","t":"2023-12-04T15:43:00","v":4.22},{"s":"COP","t":"2023-12-04T15:44:00","v":4.07},{"s":"COP","t":"2023-12-04T15:45:00","v":4.07},{"s":"COP","t":"2023-12-04T15:46:00","v":4.24},{"s":"COP","t":"2023-12-04T15:47:00","v":4.24},{"s":"COP","t":"2023-12-04T15:48:00","v":4.07},{"s":"COP","t":"2023-12-04T15:49:00","v":4.24},{"s":"COP","t":"2023-12-04T15:50:00","v":4.07},{"s":"COP","t":"2023-12-04T15:51:00","v":4.07},{"s":"COP","t":"2023-12-04T15:52:00","v":4.07},{"s":"COP","t":"2023-12-04T15:53:00","v":4.07},{"s":"COP","t":"2023-12-04T15:54:00","v":4.18},{"s":"COP","t":"2023-12-04T15:55:00","v":4.07},{"s":"COP","t":"2023-12-04T15:56:00","v":4.07},{"s":"COP","t":"2023-12-04T15:57:00","v":4.07},{"s":"COP","t":"2023-12-04T15:58:00","v":4.07},{"s":"COP","t":"2023-12-04T15:59:00","v":4.07},{"s":"COP","t":"2023-12-04T16:00:00","v":4.07},{"s":"COP","t":"2023-12-04T16:01:00","v":4.24},{"s":"COP","t":"2023-12-04T16:02:00","v":4.07},{"s":"COP","t":"2023-12-04T16:03:00","v":4.07},{"s":"COP","t":"2023-12-04T16:04:00","v":4.07},{"s":"COP","t":"2023-12-04T16:05:00","v":4.07},{"s":"COP","t":"2023-12-04T16:06:00","v":4.07},{"s":"COP","t":"2023-12-04T16:07:00","v":4.07},{"s":"COP","t":"2023-12-04T16:08:00","v":4.07},{"s":"COP","t":"2023-12-04T16:09:00","v":4.07},{"s":"COP","t":"2023-12-04T16:10:00","v":4.07},{"s":"COP","t":"2023-12-04T16:11:00","v":4.07},{"s":"COP","t":"2023-12-04T16:12:00","v":4.07},{"s":"COP","t":"2023-12-04T16:13:00","v":4.07}
]},
"layer":[
{"data":{"values":[{"ref":23.3}]},"mark":{"type":"rule","strokeDash":[2,2],"color":"#b8b8b8","strokeWidth":1},
 "encoding":{"y":{"field":"ref","type":"quantitative","title":null,"scale":{"domain":[0,64],"nice":false,"zero":false},"axis":null}}},
{"encoding":{
  "x":{"field":"t","type":"temporal","title":null,"scale":{"nice":false},"axis":{"title":null,"format":"%H:%M","grid":true,"labelPadding":4,
    "values":[{"year":2023,"month":12,"date":4,"hours":13,"minutes":20},{"year":2023,"month":12,"date":4,"hours":13,"minutes":30},{"year":2023,"month":12,"date":4,"hours":13,"minutes":40},{"year":2023,"month":12,"date":4,"hours":13,"minutes":50},{"year":2023,"month":12,"date":4,"hours":14,"minutes":0},{"year":2023,"month":12,"date":4,"hours":14,"minutes":10},{"year":2023,"month":12,"date":4,"hours":14,"minutes":20},{"year":2023,"month":12,"date":4,"hours":14,"minutes":30},{"year":2023,"month":12,"date":4,"hours":14,"minutes":40},{"year":2023,"month":12,"date":4,"hours":14,"minutes":50},{"year":2023,"month":12,"date":4,"hours":15,"minutes":0},{"year":2023,"month":12,"date":4,"hours":15,"minutes":10},{"year":2023,"month":12,"date":4,"hours":15,"minutes":20},{"year":2023,"month":12,"date":4,"hours":15,"minutes":30},{"year":2023,"month":12,"date":4,"hours":15,"minutes":40},{"year":2023,"month":12,"date":4,"hours":15,"minutes":50},{"year":2023,"month":12,"date":4,"hours":16,"minutes":0},{"year":2023,"month":12,"date":4,"hours":16,"minutes":10}]}},
  "y":{"field":"v","type":"quantitative","title":null,"scale":{"domain":[0,64],"nice":false,"zero":false},"axis":{"title":null,"values":[0,5,10,15,20,25,30,35,40,45,50,55,60],"grid":true,"labelPadding":3}},
  "color":{"field":"s","type":"nominal","scale":{"domain":["1W_Bypass","1W_kruipruimte","1W_3WV","1W_Buffer_IN","1W_Buffer_Out","P_DHW_IN","P_DHW_OUT","T_DHW_Target","T_DHW","DHW_Delta","T_Inlet","T_Outlet","T_Delta_Kamstrum","T_chDelta","T_Target","chSetpoint"],"range":["#56A64B","#F2CC0C","#5794F2","#FF780A","#C4162A","#3274D9","#8F3BB8","#D9A0E0","#FF9830","#6E2A0F","#3D71D9","#C4423A","#2B2F36","#A9D99B","#8F3BB8","#C7C7C7"]},
   "legend":{"orient":"none","legendX":-12,"legendY":323,"direction":"horizontal","title":null,
    "encode":{"labels":{"update":{"fontWeight":{"signal":"indexof(['T_Inlet','T_Outlet','T_Target'],datum.label)>=0?600:400"},"fill":{"signal":"indexof(['T_Inlet','T_Outlet','T_Target'],datum.label)>=0?'#1f2126':'#8a8a8a'"}}}}}}
 },
 "layer":[
  {"transform":[{"filter":"datum.s=='T_Outlet'||datum.s=='T_Inlet'"}],"mark":{"type":"line","strokeWidth":1.5}},
  {"transform":[{"filter":"datum.s=='T_Target'"}],"mark":{"type":"line","strokeWidth":1.5}}
 ]},
{"encoding":{
  "x":{"field":"t","type":"temporal","title":null},
  "y":{"field":"v","type":"quantitative","title":null,"scale":{"domain":[0,64],"nice":false,"zero":false},"axis":null},
  "color":{"field":"s","type":"nominal","scale":{"domain":["T_Outside","T_OutsidePipe","T_Kamstrup_Flow","T_Kamstrup_Return","Freq","T_Heat_Delta","MaxPumpDuty","P_Flow","InHeater","ExHeater","Defrost","Force_DHW","OM","QM","Sterilisation","chEnable","3W"],"range":["#96D98D","#F08A8A","#8AB8FF","#DEB6F2","#F2CC0C","#C9A00C","#6C9BC9","#EB7B24","#8F3BB8","#4B2E83","#96D98D","#FFE066","#56A64B","#C4162A","#FF8A8A","#5794F2","#CA95E5"]},
   "legend":{"orient":"none","legendX":-12,"legendY":334,"direction":"horizontal","title":null,
    "encode":{"labels":{"update":{"fontWeight":{"signal":"indexof(['T_Outside','Freq','P_Flow','Defrost','QM'],datum.label)>=0?600:400"},"fill":{"signal":"indexof(['T_Outside','Freq','P_Flow','Defrost','QM'],datum.label)>=0?'#1f2126':'#8a8a8a'"}}}}}}
 },
 "layer":[
  {"transform":[{"filter":"datum.s=='T_Outside'||datum.s=='QM'"}],"mark":{"type":"line","interpolate":"step-after","strokeWidth":3,"opacity":0.75}},
  {"transform":[{"filter":"datum.s=='Defrost'||datum.s=='P_Flow'||datum.s=='Freq'"}],"mark":{"type":"line","interpolate":"step-after","strokeWidth":1.5}}
 ]},
{"transform":[{"filter":"datum.s=='HP_State'"}],"mark":{"type":"line","strokeWidth":1.5},
 "encoding":{
  "x":{"field":"t","type":"temporal","title":null},
  "y":{"field":"v","type":"quantitative","title":null,"scale":{"domain":[0,64],"nice":false,"zero":false},"axis":null},
  "color":{"field":"s","type":"nominal","scale":{"domain":["HP_State"],"range":["#4B3E8C"]},
   "legend":{"orient":"none","legendX":-12,"legendY":345,"direction":"horizontal","title":null}}}},
{"transform":[{"filter":"datum.s=='P_Kamstrup'"}],"mark":{"type":"line","strokeWidth":1.5},
 "encoding":{
  "x":{"field":"t","type":"temporal","title":null},
  "y":{"field":"v","type":"quantitative","title":null,"scale":{"domain":[0,9000],"nice":false,"zero":false},"axis":{"title":null,"orient":"right","values":[0,500,1000,1500,2000,2500,3000,3500,4000,4500,5000,5500,6000,6500,7000,7500,8000,8500,9000],"grid":false,"labelPadding":3,"format":"d"}},
  "color":{"field":"s","type":"nominal","scale":{"domain":["P_Heat_IN","P_Heat_OUT","P_Kamstrup","FAN","P_Duty","P_Speed","P_S0_HP","P_S0_EH","P_S0_","COP","HP_COP"],"range":["#4F3D8C","#37872D","#56A64B","#96D98D","#FFB357","#B5461E","#2E3136","#8A5A2A","#1F2226","#7A300C","#1F2226"]},
   "legend":{"orient":"none","legendX":332,"legendY":364,"direction":"horizontal","title":null,
    "encode":{"labels":{"update":{"fontWeight":{"signal":"indexof(['P_Kamstrup','COP'],datum.label)>=0?600:400"},"fill":{"signal":"indexof(['P_Kamstrup','COP'],datum.label)>=0?'#1f2126':'#8a8a8a'"}}}}}}}},
{"transform":[{"filter":"datum.s=='COP'"}],"mark":{"type":"circle","size":9,"opacity":1,"color":"#6E2A0C"},
 "encoding":{
  "x":{"field":"t","type":"temporal","title":null},
  "y":{"field":"v","type":"quantitative","title":null,"scale":{"domain":[1,8],"nice":false,"zero":false},"axis":{"title":null,"orient":"right","offset":19,"values":[1,1.5,2,2.5,3,3.5,4,4.5,5,5.5,6,6.5,7,7.5,8],"grid":false,"labelPadding":3,"labelExpr":"datum.value % 1 == 0 ? format(datum.value, 'd') : format(datum.value, '.1f')"}}}},
{"data":{"name":"tt"},"transform":[{"filter":"datum.s!='P_Kamstrup'&&datum.s!='COP'"}],"mark":{"type":"circle","size":18,"opacity":1,"xOffset":2},
 "encoding":{
  "x":{"field":"t","type":"temporal","title":null},
  "y":{"field":"n","type":"quantitative","title":null,"scale":{"domain":[0,64],"nice":false,"zero":false},"axis":null},
  "color":{"field":"s","type":"nominal","scale":{"domain":["T_Outlet","T_Target","T_Inlet","Freq","P_Flow","T_Outside","QM","Defrost"],"range":["#C4423A","#8F3BB8","#3D71D9","#F2CC0C","#EB7B24","#96D98D","#C4162A","#96D98D"]},"legend":null}}},
{"data":{"name":"tt"},"transform":[{"filter":"datum.s=='P_Kamstrup'"}],"mark":{"type":"circle","size":18,"opacity":1,"xOffset":2,"color":"#56A64B"},
 "encoding":{
  "x":{"field":"t","type":"temporal","title":null},
  "y":{"field":"n","type":"quantitative","title":null,"scale":{"domain":[0,9000],"nice":false,"zero":false},"axis":null}}},
{"data":{"name":"tt"},"transform":[{"filter":"datum.s=='COP'"}],"mark":{"type":"square","size":22,"opacity":0.8,"xOffset":2,"color":"#9a8a70"},
 "encoding":{
  "x":{"field":"t","type":"temporal","title":null},
  "y":{"field":"n","type":"quantitative","title":null,"scale":{"domain":[1,8],"nice":false,"zero":false},"axis":null}}},
{"data":{"name":"tt"},
 "layer":[
  {"transform":[{"filter":"datum.k==1"}],"mark":{"type":"rule","strokeDash":[2,2],"color":"#8a8f99","strokeWidth":1,"xOffset":2},
   "encoding":{"x":{"field":"t","type":"temporal","title":null}}},
  {"transform":[{"filter":"datum.k==1"}],"mark":{"type":"rect","fill":"#ffffff","stroke":"#dcdcdc","strokeWidth":0.8,"cornerRadius":3,"xOffset":4.7,"x2Offset":83},
   "encoding":{
    "x":{"field":"t","type":"temporal","title":null},
    "x2":{"field":"t"},
    "y":{"datum":-0.7,"type":"quantitative","title":null,"scale":{"domain":[-22.72,10.69],"reverse":true,"nice":false,"zero":false},"axis":null},
    "y2":{"datum":10.8}}},
  {"transform":[{"filter":"datum.k==1"}],"mark":{"type":"text","align":"left","baseline":"middle","fontSize":6.5,"fontWeight":600,"font":"Inter","color":"#24292e","dx":11.3},
   "encoding":{
    "x":{"field":"t","type":"temporal","title":null},
    "y":{"datum":0.15,"type":"quantitative","title":null,"scale":{"domain":[-22.72,10.69],"reverse":true,"nice":false,"zero":false},"axis":null},
    "text":{"value":"2023-12-04 15:37:30"}}},
  {"mark":{"type":"rule","strokeWidth":2.6,"strokeCap":"round","xOffset":13,"x2Offset":18.5},
   "encoding":{
    "x":{"field":"t","type":"temporal","title":null},
    "x2":{"field":"t"},
    "y":{"field":"k","type":"quantitative","title":null,"scale":{"domain":[-22.72,10.69],"reverse":true,"nice":false,"zero":false},"axis":null},
    "color":{"field":"s","type":"nominal","scale":{"domain":["P_Kamstrup","T_Outlet","T_Target","T_Inlet","Freq","P_Flow","COP","T_Outside","QM","Defrost"],"range":["#56A64B","#C4423A","#8F3BB8","#3D71D9","#F2CC0C","#EB7B24","#6E2A0C","#96D98D","#C4162A","#96D98D"]},"legend":null}}},
  {"transform":[{"filter":"datum.k!=1"}],"mark":{"type":"text","align":"left","baseline":"middle","fontSize":6.5,"font":"Inter","color":"#24292e","dx":21.3},
   "encoding":{
    "x":{"field":"t","type":"temporal","title":null},
    "y":{"field":"k","type":"quantitative","title":null,"scale":{"domain":[-22.72,10.69],"reverse":true,"nice":false,"zero":false},"axis":null},
    "text":{"field":"s"}}},
  {"transform":[{"filter":"datum.k!=1"}],"mark":{"type":"text","align":"right","baseline":"middle","fontSize":6.5,"font":"Inter","color":"#24292e","dx":79.7},
   "encoding":{
    "x":{"field":"t","type":"temporal","title":null},
    "y":{"field":"k","type":"quantitative","title":null,"scale":{"domain":[-22.72,10.69],"reverse":true,"nice":false,"zero":false},"axis":null},
    "text":{"field":"val"}}},
  {"transform":[{"filter":"datum.k==1"}],"mark":{"type":"text","align":"left","baseline":"middle","fontSize":6.5,"fontWeight":700,"font":"Inter","color":"#24292e","dx":21.3},
   "encoding":{
    "x":{"field":"t","type":"temporal","title":null},
    "y":{"field":"k","type":"quantitative","title":null,"scale":{"domain":[-22.72,10.69],"reverse":true,"nice":false,"zero":false},"axis":null},
    "text":{"field":"s"}}},
  {"transform":[{"filter":"datum.k==1"}],"mark":{"type":"text","align":"right","baseline":"middle","fontSize":6.5,"fontWeight":700,"font":"Inter","color":"#24292e","dx":79.7},
   "encoding":{
    "x":{"field":"t","type":"temporal","title":null},
    "y":{"field":"k","type":"quantitative","title":null,"scale":{"domain":[-22.72,10.69],"reverse":true,"nice":false,"zero":false},"axis":null},
    "text":{"field":"val"}}}
 ]}
],
"resolve":{"scale":{"color":"independent","y":"independent"}},
"config":{
 "view":{"stroke":null},
 "font":"Inter",
 "axis":{"labelFont":"Inter","labelFontSize":6.5,"labelColor":"#55585e","ticks":false,"domain":false,"gridColor":"#efefef","gridWidth":1},
 "legend":{"symbolType":"stroke","symbolSize":64,"symbolStrokeWidth":2.6,"labelFont":"Inter","labelFontSize":6.2,"labelColor":"#8a8a8a","columnPadding":-1,"labelOffset":1,"padding":0,"rowPadding":0,"labelLimit":200}
}
}
